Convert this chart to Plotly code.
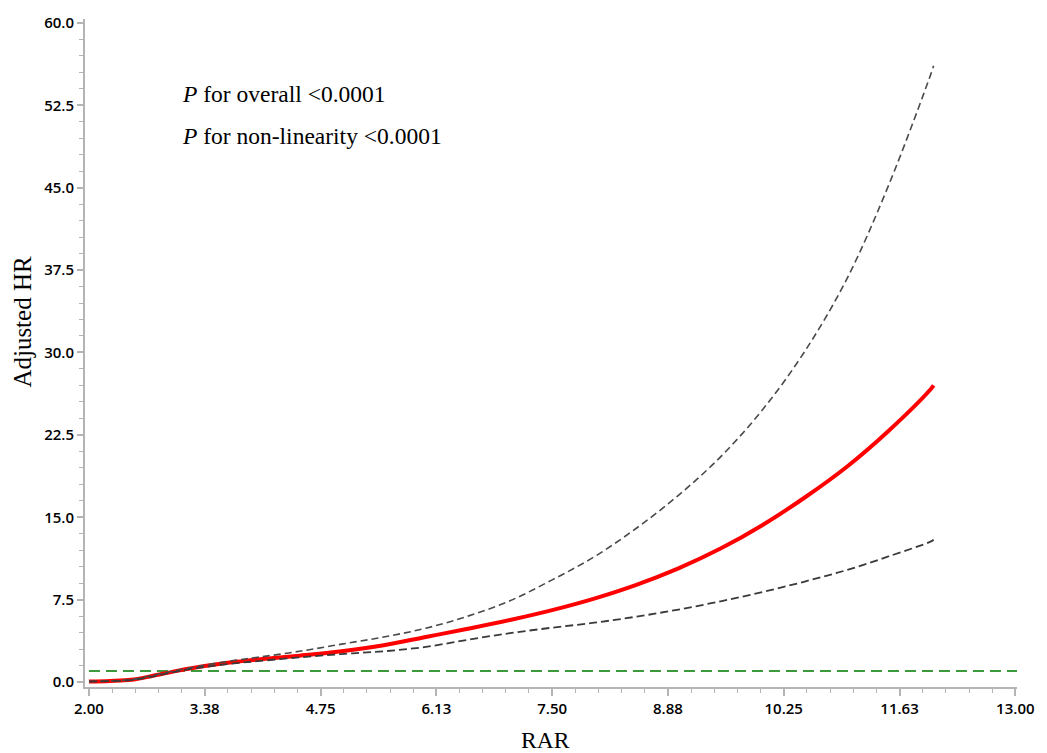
import plotly.graph_objects as go

# ---- data ----
rar = [2.0, 2.25, 2.5, 2.75, 3.0, 3.25, 3.5, 3.75, 4.0, 4.5, 5.0, 5.5, 6.0, 6.5,
       7.0, 7.5, 8.0, 8.5, 9.0, 9.5, 10.0, 10.5, 11.0, 11.5, 12.0, 12.03]
hr = [0.05, 0.1, 0.2, 0.55, 0.95, 1.3, 1.6, 1.85, 2.05, 2.4, 2.8, 3.35, 4.1, 4.85,
      5.65, 6.55, 7.6, 8.85, 10.35, 12.15, 14.3, 16.8, 19.6, 22.9, 26.7, 27.0]
upper = [0.05, 0.11, 0.22, 0.6, 1.0, 1.35, 1.7, 2.0, 2.25, 2.8, 3.45, 4.1, 4.9, 6.0,
         7.4, 9.3, 11.4, 14.0, 17.0, 20.5, 24.8, 30.1, 36.7, 45.3, 55.4, 56.1]
lower = [0.05, 0.09, 0.17, 0.5, 0.9, 1.25, 1.5, 1.72, 1.9, 2.25, 2.55, 2.8, 3.2, 3.85,
         4.45, 4.95, 5.4, 5.95, 6.6, 7.35, 8.2, 9.15, 10.2, 11.45, 12.8, 12.95]

x_tickvals = [2.0, 3.375, 4.75, 6.125, 7.5, 8.875, 10.25, 11.625, 13.0]
x_ticktext = ["2.00", "3.38", "4.75", "6.13", "7.50", "8.88", "10.25", "11.63", "13.00"]
y_tickvals = [0, 7.5, 15, 22.5, 30, 37.5, 45, 52.5, 60]
y_ticktext = ["0.0", "7.5", "15.0", "22.5", "30.0", "37.5", "45.0", "52.5", "60.0"]
ref_hr = 1.0

fig = go.Figure()

fig.add_trace(go.Scatter(x=[2.0, 13.03], y=[ref_hr, ref_hr], mode="lines",
                         line=dict(color="#3c9a3c", width=2, dash="11px,6px"),
                         hoverinfo="skip"))
fig.add_trace(go.Scatter(x=rar, y=hr, mode="lines",
                         line=dict(color="#ff0000", width=4, shape="spline", smoothing=1.0)))
fig.add_trace(go.Scatter(x=rar, y=upper, mode="lines",
                         line=dict(color="#4a4a4a", width=1.6, dash="7px,4px",
                                   shape="spline", smoothing=1.0)))
fig.add_trace(go.Scatter(x=rar, y=lower, mode="lines",
                         line=dict(color="#3a3a3a", width=1.8, dash="8px,4px",
                                   shape="spline", smoothing=1.0)))

tickfont = dict(family="Open Sans", size=15, color="#000000", weight=600)
axcol = "#b4b4b4"

fig.update_xaxes(range=[1.953, 13.02], tickmode="array", tickvals=x_tickvals,
                 ticktext=x_ticktext, ticks="outside", ticklen=7, tickwidth=1.5,
                 tickcolor=axcol, showline=True, linecolor=axcol, linewidth=2,
                 showgrid=False, zeroline=False, tickfont=tickfont,
                 minor=dict(ticks="outside", ticklen=4, tick0=2.0, dtick=0.275,
                            tickcolor=axcol, tickwidth=1.2, showgrid=False))
fig.update_yaxes(range=[-0.45, 60.35], tickmode="array", tickvals=y_tickvals,
                 ticktext=y_ticktext, ticks="outside", ticklen=6, tickwidth=1.5,
                 tickcolor=axcol, showline=True, linecolor=axcol, linewidth=2,
                 showgrid=False, zeroline=False, tickfont=tickfont,
                 minor=dict(ticks="outside", ticklen=4, tick0=0, dtick=1.5,
                            tickcolor=axcol, tickwidth=1.2, showgrid=False))

W, H = 1047, 753
L, R, T, B = 85, 25, 13, 66
pw, ph = W - L - R, H - T - B


def px2paper(px, py):
    return (px - L) / pw, 1 - (py - T) / ph


serif = dict(family="Liberation Serif", size=23.5, color="#000000")
for txt, (px, py) in [("<i>P</i> for overall &lt;0.0001", (181, 89)),
                      ("<i>P</i> for non-linearity &lt;0.0001", (181, 131))]:
    xp, yp = px2paper(px, py)
    fig.add_annotation(x=xp, y=yp, xref="paper", yref="paper", text=txt, showarrow=False,
                       xanchor="left", yanchor="middle", font=serif)

xp, yp = px2paper(548, 740)
fig.add_annotation(x=xp, y=yp, xref="paper", yref="paper", text="RAR", showarrow=False,
                   xanchor="center", yanchor="middle",
                   font=dict(family="Liberation Serif", size=23.5, color="#000000"))
xp, yp = px2paper(22, 318)
fig.add_annotation(x=xp, y=yp, xref="paper", yref="paper", text="Adjusted HR",
                   showarrow=False, textangle=-90, xanchor="center", yanchor="middle",
                   font=dict(family="Liberation Serif", size=25, color="#000000"))

fig.update_layout(width=W, height=H, margin=dict(l=L, r=R, t=T, b=B),
                  paper_bgcolor="white", plot_bgcolor="white", showlegend=False)

fig.write_html("out.html")
